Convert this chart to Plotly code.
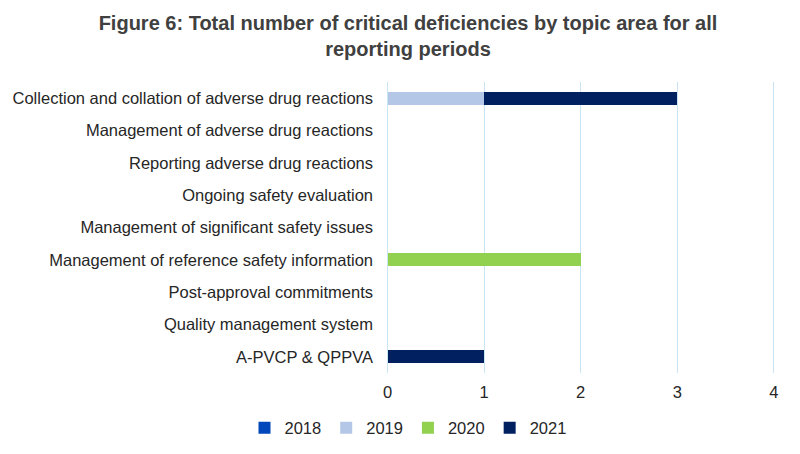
import plotly.graph_objects as go

categories = [
    "Collection and collation of adverse drug reactions",
    "Management of adverse drug reactions",
    "Reporting adverse drug reactions",
    "Ongoing safety evaluation",
    "Management of significant safety issues",
    "Management of reference safety information",
    "Post-approval commitments",
    "Quality management system",
    "A-PVCP & QPPVA",
]
years = ["2018", "2019", "2020", "2021"]
v2018 = [0, 0, 0, 0, 0, 0, 0, 0, 0]
v2019 = [1, 0, 0, 0, 0, 0, 0, 0, 0]
v2020 = [0, 0, 0, 0, 0, 2, 0, 0, 0]
v2021 = [2, 0, 0, 0, 0, 0, 0, 0, 1]
colors = ["#0047BB", "#B4C7E7", "#92D050", "#002060"]

fig = go.Figure()
for name, vals, c in zip(years, [v2018, v2019, v2020, v2021], colors):
    fig.add_trace(go.Bar(
        y=categories, x=vals, name=name, orientation="h",
        marker=dict(color=c, line=dict(width=0)),
    ))

grid = "#C8E4F5"
fig.update_layout(
    width=800, height=454,
    barmode="stack", bargap=0.6,
    plot_bgcolor="white", paper_bgcolor="white",
    font=dict(family="Liberation Sans, Arial, sans-serif", size=16.5, color="#262626"),
    title=dict(
        text="<b>Figure 6: Total number of critical deficiencies by topic area for all<br>reporting periods</b>",
        x=0.5, xanchor="center", xref="container",
        y=0.951, yanchor="middle", yref="container",
        font=dict(size=20, color="#404040"),
    ),
    margin=dict(l=379, r=33, t=74, b=89, autoexpand=False),
    legend=dict(
        orientation="h", xref="container", x=0.5, xanchor="center",
        yref="container", y=0.075, yanchor="middle",
        font=dict(size=16.5), traceorder="normal",
        itemwidth=30,
    ),
    xaxis=dict(
        range=[-0.006, 4.012], dtick=1, showgrid=True, gridcolor=grid, gridwidth=1,
        zeroline=True, zerolinecolor=grid, zerolinewidth=1,
        showline=False, ticks="", ticklabelstandoff=7, automargin=False,
    ),
    yaxis=dict(
        categoryorder="array", categoryarray=categories[::-1],
        showgrid=False, ticks="", ticklabelstandoff=13,
        showline=False, automargin=False,
    ),
)

fig.write_html("out.html")
